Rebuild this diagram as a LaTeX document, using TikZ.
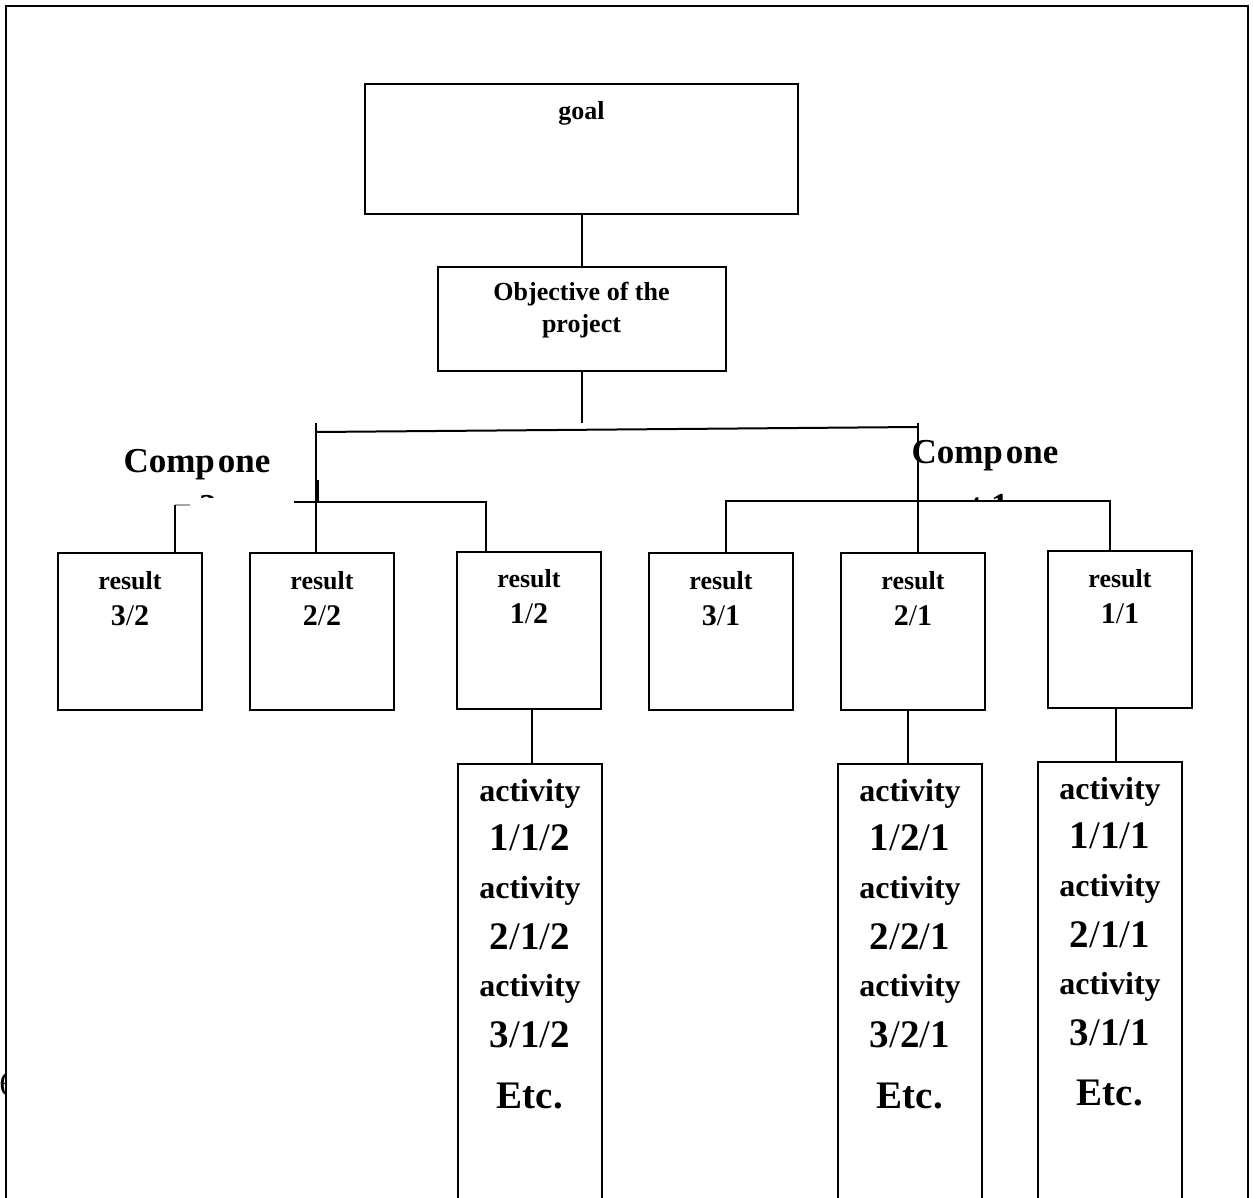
\documentclass[tikz,border=0pt]{standalone}
\usepackage{fontspec}
\setmainfont{Liberation Serif}
\usetikzlibrary{positioning}
\newcommand{\rsl}{{\mdseries /}}

\begin{document}
\begin{tikzpicture}[
        x=0.5pt,y=-0.5pt,
        every node/.style={font=\bfseries,inner sep=0pt},
        bx/.style={draw,line width=1pt,minimum width=72pt},
        resBox/.style={bx,minimum height=78.5pt},
        actBox/.style={bx,minimum height=225pt},
        ln/.style={line width=1pt},
        resTxt/.style={font=\fontsize{13}{16}\bfseries,align=center},
        numTxt/.style={font=\fontsize{15}{17}\bfseries},
        actTxt/.style={font=\fontsize{16}{18}\bfseries},
        actNum/.style={font=\fontsize{19.5}{22}\bfseries},
        cmpTxt/.style={font=\fontsize{17.5}{20}\bfseries}]
        \useasboundingbox (0,0) rectangle (1254,1198);
        \node[font=\fontsize{17}{20}\selectfont,anchor=west] (pg) at (-1,1084) {6};
        \draw[line width=1.2pt,fill=white] (6,6) rectangle (1248,1230);
        % goal and objective
        \node[bx,minimum width=216.5pt,minimum height=65pt] (goal) at (581.5,149) {};
        \node[resTxt] (goalTxt) at (581.5,113) {goal};
        \node[bx,minimum width=144pt,minimum height=52pt] (obj) at (581.5,319) {};
        \node[resTxt] (objTxt) at (581.5,310) {Objective of the\\project};
        \draw[ln] (goal) -- (obj);
        % results
        \node[resBox] (r32) at (130,631.5) {};
        \node[resBox] (r22) at (321.5,631.5) {};
        \node[resBox] (r12) at (529,630) {};
        \node[resBox] (r31) at (721,631.5) {};
        \node[resBox] (r21) at (913,631.5) {};
        \node[resBox] (r11) at (1120,629.5) {};
        \node[resTxt] (r32a) at (130,581) {result};
        \node[numTxt] (r32b) at (130,616) {3\rsl 2};
        \node[resTxt] (r22a) at (322,581) {result};
        \node[numTxt] (r22b) at (322,616) {2\rsl 2};
        \node[resTxt] (r12a) at (529,579) {result};
        \node[numTxt] (r12b) at (529,614) {1\rsl 2};
        \node[resTxt] (r31a) at (721,581) {result};
        \node[numTxt] (r31b) at (721,616) {3\rsl 1};
        \node[resTxt] (r21a) at (913,581) {result};
        \node[numTxt] (r21b) at (913,616) {2\rsl 1};
        \node[resTxt] (r11a) at (1120,579) {result};
        \node[numTxt] (r11b) at (1120,614) {1\rsl 1};
        % connectors objective -> results
        \coordinate (objEnd) at (581.5,423);
        \coordinate (busL) at (316,432);
        \coordinate (busR) at (918,427);
        \coordinate (topL) at (316,423);
        \coordinate (topR) at (918,423);
        \draw[ln] (obj.south) -- (objEnd);
        \draw[ln] (busL) -- (busR);
        \draw[ln] (topL) -- (r22.north -| topL);
        \draw[ln] (topR) -- (r21.north -| topR);
        \coordinate (c2a) at (294,502);
        \coordinate (c2b) at (486,502);
        \coordinate (c2t) at (318,480);
        \coordinate (c2m) at (318,502);
        \coordinate (c2l) at (175,505);
        \coordinate (c2g) at (190,505);
        \draw[ln] (c2a) -- (c2b) -- (r12.north -| c2b);
        \draw[line width=1.4pt] (c2t) -- (c2m);
        \draw[ln,black!35] (c2g) -- (c2l);
        \draw[ln] (c2l) -- (r32.north -| c2l);
        \coordinate (c1a) at (726,501);
        \coordinate (c1b) at (1110,501);
        \draw[ln] (r31.north -| c1a) -- (c1a) -- (c1b) -- (r11.north -| c1b);
        % component labels
        \node[cmpTxt] (cmp2) at (197,465) {Comp\kern1.5pt one};
        \node[cmpTxt] (cmp1) at (985,456) {Comp\kern1.5pt one};
        \begin{scope}
          \clip (100,480) rectangle (300,497);
          \node[cmpTxt,anchor=base] (cmp2b) at (188,518) {nt 2};
        \end{scope}
        \begin{scope}
          \clip (900,480) rectangle (1080,499);
          \node[cmpTxt,anchor=base] (cmp1b) at (980,517) {nt 1};
        \end{scope}
        % activities
        \node[actBox] (a12) at (530,989) {};
        \node[actBox] (a21) at (910,989) {};
        \node[actBox] (a11) at (1110,987) {};
        \draw[ln] ([xshift=1.5pt]r12.south) -- ([xshift=1.5pt]r12.south |- a12.north);
        \draw[ln] ([xshift=-2.5pt]r21.south) -- ([xshift=-2.5pt]r21.south |- a21.north);
        \draw[ln] ([xshift=-2pt]r11.south) -- ([xshift=-2pt]r11.south |- a11.north);
        \node[actTxt] (a12t1) at (530,794) {activity};
        \node[actNum] (a12n1) at (530,838) {1\rsl 1\rsl 2};
        \node[actTxt] (a12t2) at (530,891) {activity};
        \node[actNum] (a12n2) at (530,937) {2\rsl 1\rsl 2};
        \node[actTxt] (a12t3) at (530,989) {activity};
        \node[actNum] (a12n3) at (530,1035) {3\rsl 1\rsl 2};
        \node[actNum] (a12e) at (530,1096) {Etc.};
        \node[actTxt] (a21t1) at (910,794) {activity};
        \node[actNum] (a21n1) at (910,838) {1\rsl 2\rsl 1};
        \node[actTxt] (a21t2) at (910,891) {activity};
        \node[actNum] (a21n2) at (910,937) {2\rsl 2\rsl 1};
        \node[actTxt] (a21t3) at (910,989) {activity};
        \node[actNum] (a21n3) at (910,1035) {3\rsl 2\rsl 1};
        \node[actNum] (a21e) at (910,1096) {Etc.};
        \node[actTxt] (a11t1) at (1110,792) {activity};
        \node[actNum] (a11n1) at (1110,836) {1\rsl 1\rsl 1};
        \node[actTxt] (a11t2) at (1110,889) {activity};
        \node[actNum] (a11n2) at (1110,935) {2\rsl 1\rsl 1};
        \node[actTxt] (a11t3) at (1110,987) {activity};
        \node[actNum] (a11n3) at (1110,1033) {3\rsl 1\rsl 1};
        \node[actNum] (a11e) at (1110,1093) {Etc.};
      \end{tikzpicture}
\end{document}
